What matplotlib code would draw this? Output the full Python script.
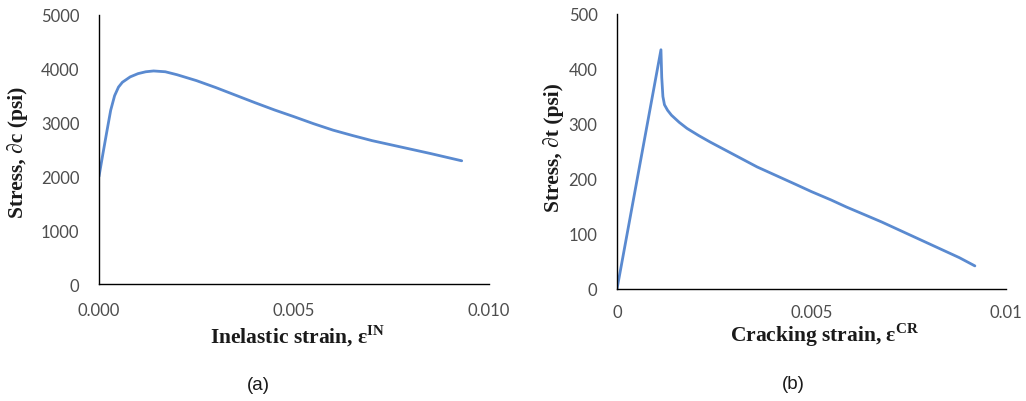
import matplotlib
matplotlib.use("Agg")
import matplotlib.pyplot as plt

# ---- data ----
a_strain = [0.0, 0.0001, 0.0002, 0.0003, 0.0004, 0.0005, 0.0006, 0.0008, 0.0010,
            0.0012, 0.0014, 0.0017, 0.0020, 0.0025, 0.0030, 0.0035, 0.0040,
            0.0045, 0.0050, 0.0055, 0.0060, 0.0065, 0.0070, 0.0075, 0.0080,
            0.0085, 0.0093]
a_stress = [2000, 2420, 2830, 3230, 3500, 3660, 3750, 3850, 3910,
            3945, 3960, 3945, 3890, 3780, 3650, 3510, 3370,
            3235, 3110, 2980, 2860, 2760, 2665, 2585, 2505,
            2425, 2290]

b_strain = [0.0, 0.00113, 0.00115, 0.00118, 0.00122, 0.00130, 0.00140, 0.0016,
            0.0018, 0.0021, 0.0024, 0.0028, 0.0032, 0.0036, 0.0041, 0.0046,
            0.0050, 0.0055, 0.0059, 0.0064, 0.0068, 0.0072, 0.0076, 0.0080,
            0.0084, 0.0088, 0.0092]
b_stress = [0, 435, 385, 350, 335, 325, 316, 303,
            292, 279, 267, 252, 237, 222, 206, 190,
            177, 162, 149, 134, 122, 109, 96, 83,
            70, 57, 42]

a_xticks = [0.0, 0.005, 0.010]
a_xticklabels = ["0.000", "0.005", "0.010"]
a_yticks = [0, 1000, 2000, 3000, 4000, 5000]
b_xticks = [0.0, 0.005, 0.01]
b_xticklabels = ["0", "0.005", "0.01"]
b_yticks = [0, 100, 200, 300, 400, 500]

# ---- style ----
plt.rcParams['mathtext.fontset'] = 'custom'
plt.rcParams['mathtext.rm'] = 'Liberation Serif:bold'
plt.rcParams['mathtext.bf'] = 'Liberation Serif:bold'

line_color = "#5A8AD0"
tick_color = "#4d4d4d"
tick_font = "Lato"
label_font = "Liberation Serif"

fig = plt.figure(figsize=(10.26, 4.02), dpi=100)
ax1 = fig.add_axes([99/1026, 1-285/402, (489-99)/1026, (285-16)/402])
ax2 = fig.add_axes([617/1026, 1-290/402, (1006-617)/1026, (290-15)/402])


def style(ax, xticks, xlabels, yticks, ymax, xpad):
    ax.set_xlim(0, 0.010)
    ax.set_ylim(0, ymax)
    ax.set_xticks(xticks)
    ax.set_xticklabels(xlabels)
    ax.set_yticks(yticks)
    for s in ["top", "right"]:
        ax.spines[s].set_visible(False)
    for s in ["left", "bottom"]:
        ax.spines[s].set_color("black")
        ax.spines[s].set_linewidth(1.0)
    ax.tick_params(axis="both", length=0, labelsize=12, labelcolor=tick_color)
    ax.tick_params(axis="x", pad=xpad)
    ax.tick_params(axis="y", pad=14)
    for lab in ax.get_xticklabels() + ax.get_yticklabels():
        lab.set_fontfamily(tick_font)


ax1.plot(a_strain, a_stress, color=line_color, lw=2.0, solid_capstyle="round")
style(ax1, a_xticks, a_xticklabels, a_yticks, 5000, 13)
ax2.plot(b_strain, b_stress, color=line_color, lw=2.0, solid_capstyle="round")
style(ax2, b_xticks, b_xticklabels, b_yticks, 500, 10.5)

lab_kw = dict(fontfamily=label_font, fontweight="bold", fontsize=15.5, color="#1a1a1a")
fig.text(18/1026, 1-152/402, "Stress, ∂c (psi)", rotation=90, ha="center", va="center", **lab_kw)
fig.text(553/1026, 1-148/402, "Stress, ∂t (psi)", rotation=90, ha="center", va="center", **lab_kw)
fig.text(298/1026, 1-343/402, "Inelastic strain, ε$^{\\mathrm{IN}}$", ha="center", va="baseline", **lab_kw)
fig.text(825/1026, 1-342/402, "Cracking strain, ε$^{\\mathrm{CR}}$", ha="center", va="baseline", **lab_kw)

cap_kw = dict(fontfamily="Liberation Sans", fontsize=13.5, color="#1a1a1a", ha="center", va="center")
fig.text(258/1026, 1-386/402, "(a)", **cap_kw)
fig.text(793/1026, 1-385/402, "(b)", **cap_kw)

fig.savefig("out.png", dpi=100)
